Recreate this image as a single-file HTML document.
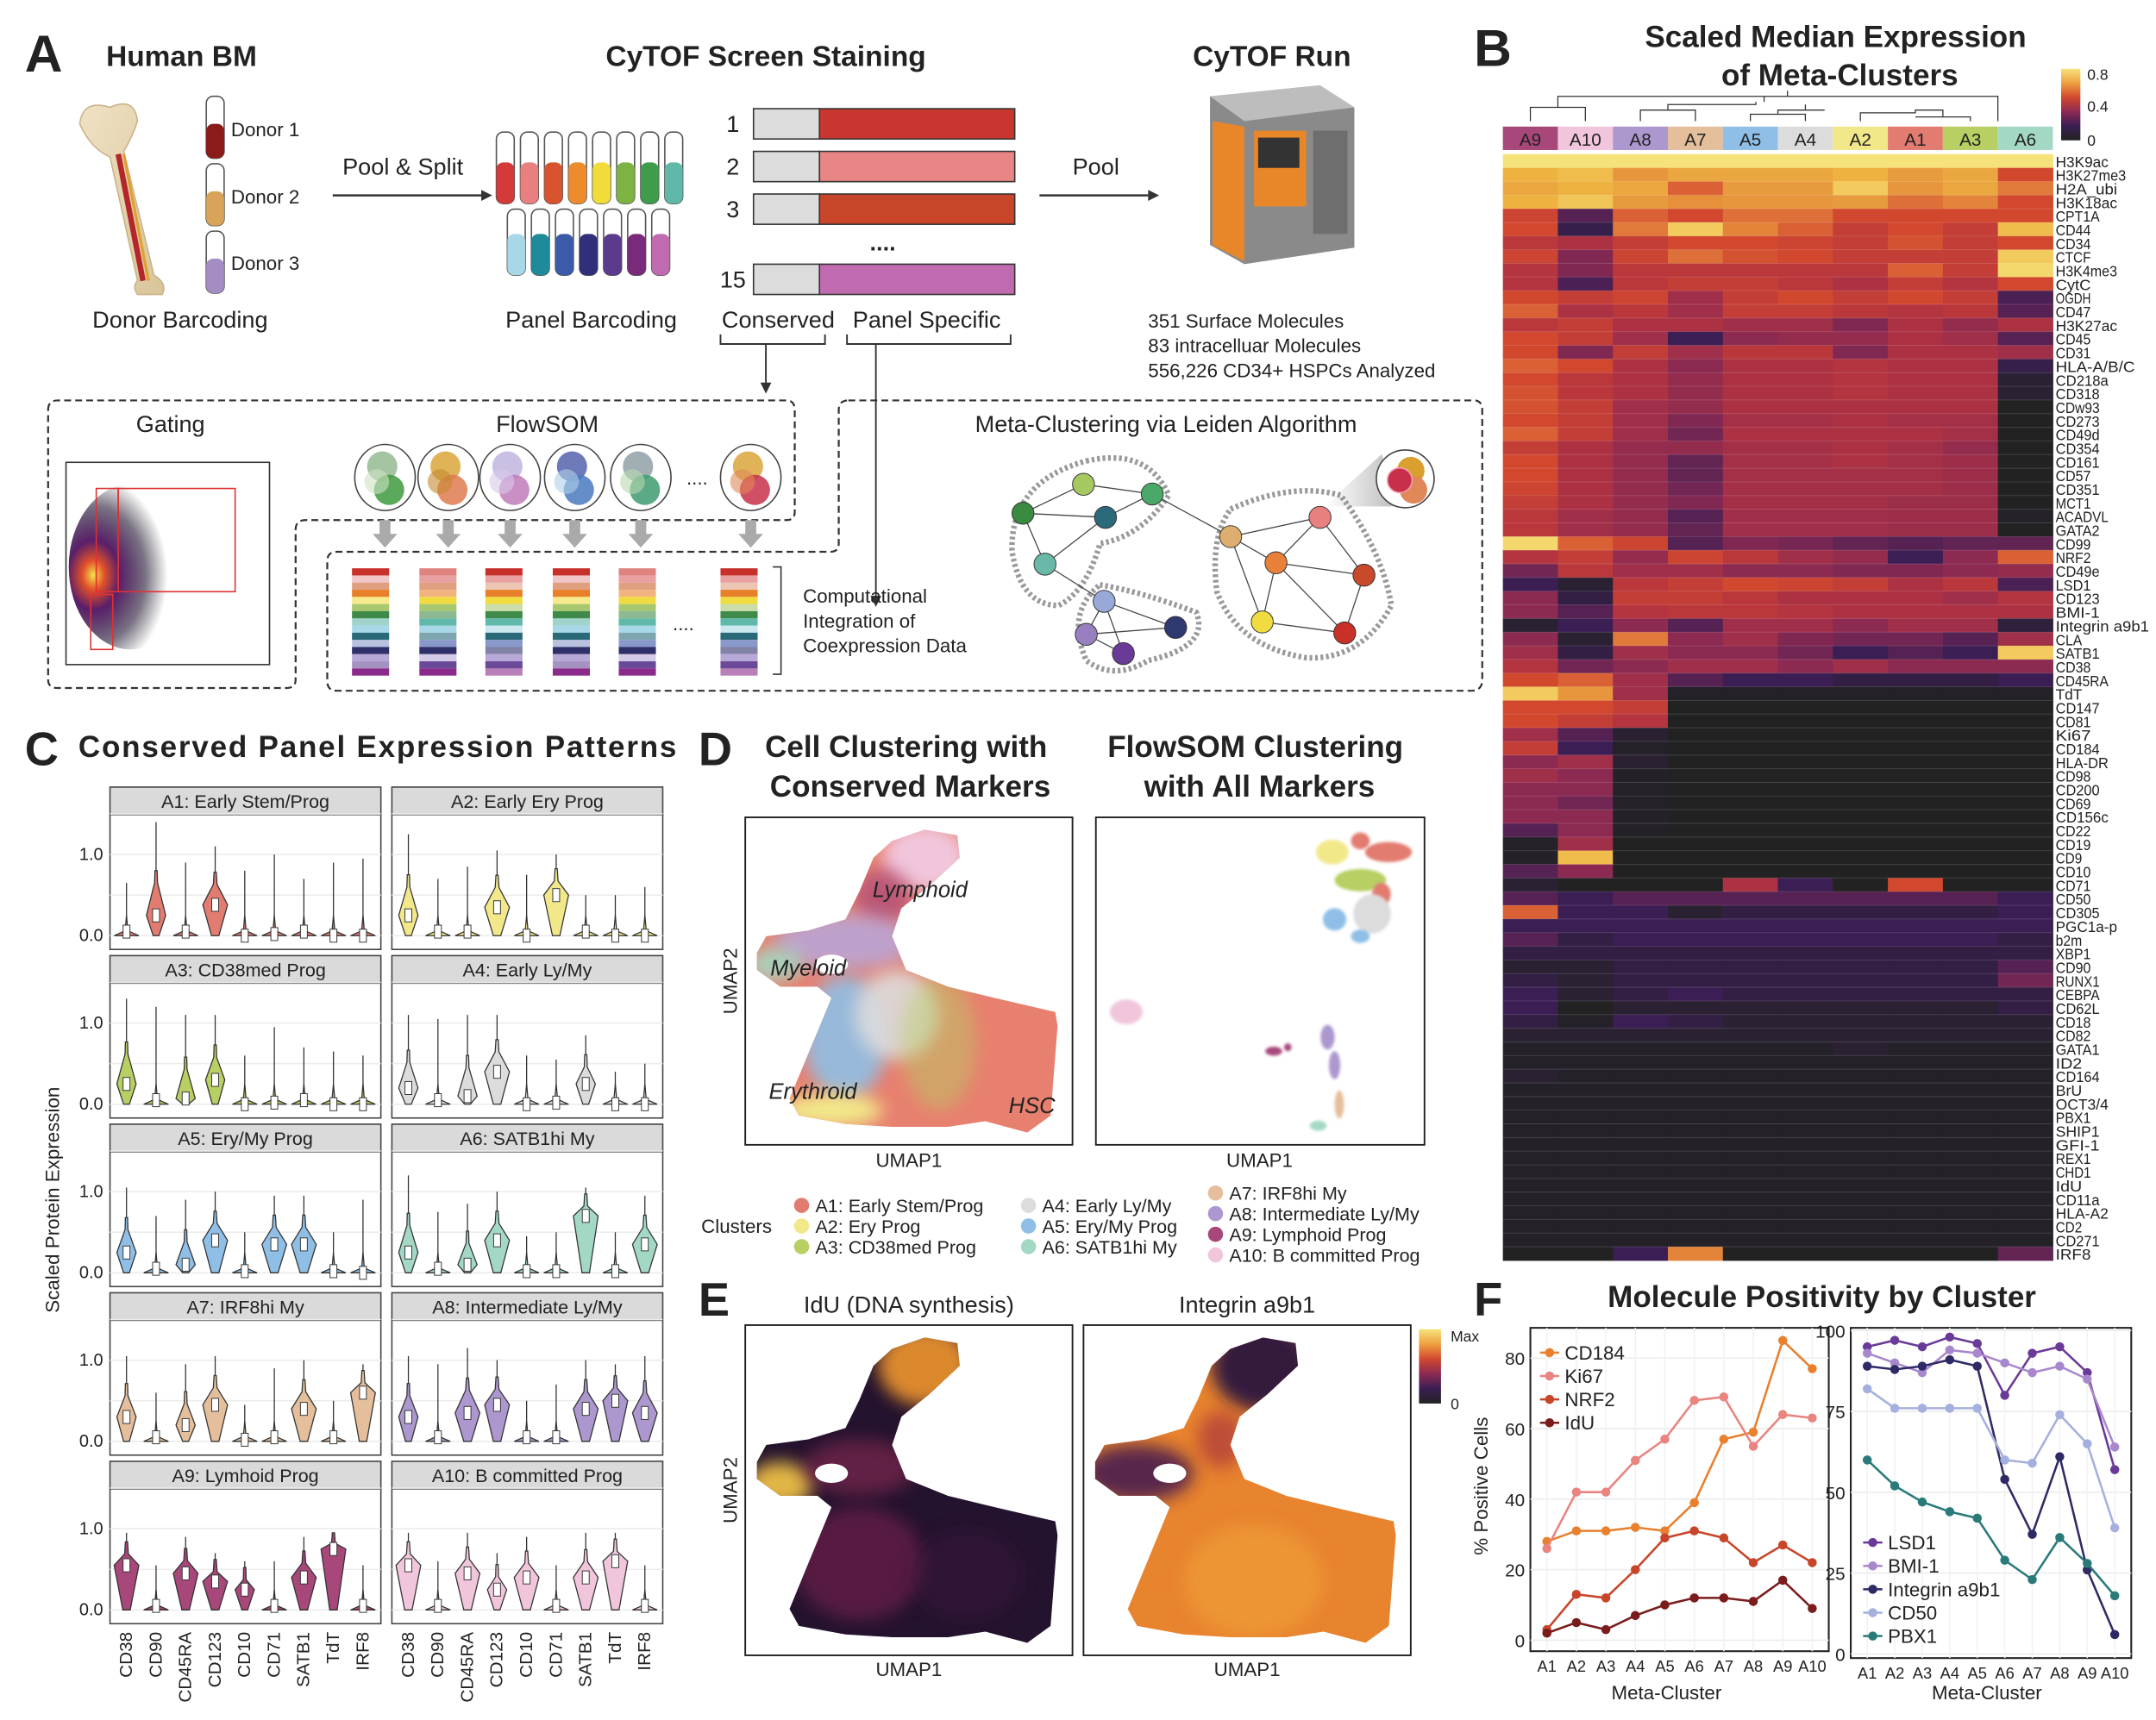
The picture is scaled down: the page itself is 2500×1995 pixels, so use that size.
<!DOCTYPE html>
<html><head><meta charset="utf-8"><title>CyTOF figure</title>
<style>
html,body{margin:0;padding:0;background:#fff;}
svg{display:block;}
text{font-family:"Liberation Sans",Arial,sans-serif;fill:#222;}
.b{font-weight:bold;}
</style></head>
<body>
<svg id="fig" width="2500" height="1995" viewBox="0 0 1568 1250" preserveAspectRatio="none" xmlns="http://www.w3.org/2000/svg">
<defs>
 <filter id="blur6" x="-50%" y="-50%" width="200%" height="200%"><feGaussianBlur stdDeviation="6"/></filter>
 <filter id="blur3" x="-50%" y="-50%" width="200%" height="200%"><feGaussianBlur stdDeviation="1"/></filter>
 <radialGradient id="gateG" cx="0.2" cy="0.55" r="0.6"><stop offset="0" stop-color="#f7e04a"/><stop offset="0.15" stop-color="#e0502a"/><stop offset="0.35" stop-color="#5a1e6a"/><stop offset="0.7" stop-color="#221533" stop-opacity="0.6"/><stop offset="1" stop-color="#222" stop-opacity="0"/></radialGradient>
 <linearGradient id="cbar" x1="0" y1="1" x2="0" y2="0"><stop offset="0" stop-color="#222"/><stop offset="0.2" stop-color="#3b1e54"/><stop offset="0.4" stop-color="#8c2a52"/><stop offset="0.6" stop-color="#d2482f"/><stop offset="0.8" stop-color="#eea040"/><stop offset="1" stop-color="#f6e27a"/></linearGradient>
 <linearGradient id="boneG" x1="0" y1="0" x2="1" y2="1"><stop offset="0" stop-color="#efe2c4"/><stop offset="1" stop-color="#d9c49a"/></linearGradient>
 <linearGradient id="magG" x1="0" y1="0" x2="1" y2="0"><stop offset="0" stop-color="#888" stop-opacity="0"/><stop offset="1" stop-color="#777"/></linearGradient>
</defs>

<g>
 <text x="18" y="52" font-size="38" class="b">A</text>
 <text x="132" y="48" font-size="21" class="b" text-anchor="middle">Human BM</text>
 <text x="557" y="48" font-size="21" class="b" text-anchor="middle">CyTOF Screen Staining</text>
 <text x="925" y="48" font-size="21" class="b" text-anchor="middle">CyTOF Run</text>
 <g>
  <path d="M58 90 Q60 72 80 78 Q98 70 100 88 Q96 100 90 110 L112 200 Q122 206 118 214 L100 214 Q96 208 100 204 L80 114 Q66 108 58 90Z" fill="url(#boneG)" stroke="#c9b38a"/>
  <path d="M86 112 L104 204" stroke="#b3262a" stroke-width="4"/>
  <path d="M90 112 L108 204" stroke="#e0a030" stroke-width="2"/>
 </g>
 <g>
  <rect x="150" y="70" width="13" height="45" rx="5" fill="#fff" stroke="#555"/><rect x="150" y="90" width="13" height="25" rx="5" fill="#8b1a1a"/>
  <rect x="150" y="119" width="13" height="45" rx="5" fill="#fff" stroke="#555"/><rect x="150" y="139" width="13" height="25" rx="5" fill="#d9a45a"/>
  <rect x="150" y="168" width="13" height="45" rx="5" fill="#fff" stroke="#555"/><rect x="150" y="188" width="13" height="25" rx="5" fill="#a58cc4"/>
  <text x="168" y="99" font-size="14">Donor 1</text><text x="168" y="148" font-size="14">Donor 2</text><text x="168" y="196" font-size="14">Donor 3</text>
 </g>
 <text x="131" y="238" font-size="17" text-anchor="middle">Donor Barcoding</text>
 <line x1="242" y1="142" x2="350" y2="142" stroke="#333" stroke-width="1.5"/><path d="M350 138 L358 142 L350 146Z" fill="#333"/>
 <text x="293" y="127" font-size="17" text-anchor="middle">Pool &amp; Split</text>
 <g id="barcodeTubes"></g>
 <text x="430" y="238" font-size="17" text-anchor="middle">Panel Barcoding</text>
 <g>
  <text x="533" y="96" font-size="17" text-anchor="middle">1</text><rect x="548" y="79" width="48" height="22" fill="#dcdcdc" stroke="#333"/><rect x="596" y="79" width="142" height="22" fill="#c8362f" stroke="#333"/>
  <text x="533" y="127" font-size="17" text-anchor="middle">2</text><rect x="548" y="110" width="48" height="22" fill="#dcdcdc" stroke="#333"/><rect x="596" y="110" width="142" height="22" fill="#e88585" stroke="#333"/>
  <text x="533" y="158" font-size="17" text-anchor="middle">3</text><rect x="548" y="141" width="48" height="22" fill="#dcdcdc" stroke="#333"/><rect x="596" y="141" width="142" height="22" fill="#c9452a" stroke="#333"/>
  <text x="642" y="182" font-size="17" class="b" text-anchor="middle">....</text>
  <text x="533" y="209" font-size="17" text-anchor="middle">15</text><rect x="548" y="192" width="48" height="22" fill="#dcdcdc" stroke="#333"/><rect x="596" y="192" width="142" height="22" fill="#c06ab0" stroke="#333"/>
 </g>
 <text x="566" y="238" font-size="17" text-anchor="middle">Conserved</text>
 <text x="674" y="238" font-size="17" text-anchor="middle">Panel Specific</text>
 <path d="M524 243 V250 H600 V243 M616 243 V250 H735 V243 M557 250 V280 M637 250 V435" stroke="#333" fill="none" stroke-width="1.2"/>
 <path d="M553 278 L557 286 L561 278Z M633 433 L637 441 L641 433Z" fill="#333"/>
 <line x1="756" y1="142" x2="835" y2="142" stroke="#333" stroke-width="1.5"/><path d="M835 138 L843 142 L835 146Z" fill="#333"/>
 <text x="797" y="127" font-size="17" text-anchor="middle">Pool</text>
 <g>
  <path d="M880 70 L960 62 L985 78 L985 180 L905 192 L880 178Z" fill="#8a8a8a"/>
  <path d="M880 70 L960 62 L985 78 L905 88Z" fill="#bdbdbd"/>
  <path d="M882 88 L905 92 L905 190 L882 178Z" fill="#e8872a"/>
  <rect x="912" y="95" width="38" height="55" fill="#e8872a"/>
  <rect x="955" y="95" width="25" height="75" fill="#6e6e6e"/>
  <rect x="915" y="100" width="30" height="22" fill="#333"/>
 </g>
 <text x="835" y="238" font-size="14">351 Surface Molecules</text>
 <text x="835" y="256" font-size="14">83 intracelluar Molecules</text>
 <text x="835" y="274" font-size="14">556,226 CD34+ HSPCs Analyzed</text>

 <path d="M35 298 Q35 291 42 291 H572 Q578 291 578 298 V372 Q578 378 572 378 H222 Q215 378 215 385 V494 Q215 500 208 500 H42 Q35 500 35 494Z" fill="none" stroke="#333" stroke-width="1.4" stroke-dasharray="5,3"/>
 <path d="M617 291 H1072 Q1078 291 1078 298 V494 Q1078 502 1070 502 H245 Q238 502 238 495 V408 Q238 401 245 401 H604 Q610 401 610 395 V298 Q610 291 617 291Z" fill="none" stroke="#333" stroke-width="1.4" stroke-dasharray="5,3"/>
 <text x="124" y="314" font-size="17" text-anchor="middle">Gating</text>
 <text x="398" y="314" font-size="17" text-anchor="middle">FlowSOM</text>
 <text x="848" y="314" font-size="17" text-anchor="middle">Meta-Clustering via Leiden Algorithm</text>
 <g>
  <rect x="48" y="336" width="148" height="147" fill="#fff" stroke="#333"/>
  <ellipse cx="95" cy="412" rx="45" ry="60" fill="url(#gateG)"/>
  <rect x="70" y="355" width="16" height="75" fill="none" stroke="#e03030"/>
  <rect x="86" y="355" width="85" height="75" fill="none" stroke="#e03030"/>
  <rect x="66" y="432" width="16" height="40" fill="none" stroke="#e03030"/>
 </g>
 <g id="flowsom"></g>
 <g id="stacks"></g>
 <path d="M562 412 H568 V490 H562" fill="none" stroke="#333"/>
 <text x="584" y="438" font-size="14">Computational</text>
 <text x="584" y="456" font-size="14">Integration of</text>
 <text x="584" y="474" font-size="14">Coexpression Data</text>
 <g id="network"></g>
</g>

<g>
 <text x="1072" y="48" font-size="38" class="b">B</text>
 <text x="1335" y="34" font-size="22" class="b" text-anchor="middle">Scaled Median Expression</text>
 <text x="1338" y="62" font-size="22" class="b" text-anchor="middle">of Meta-Clusters</text>
 <g id="heat"></g>
 <rect x="1499" y="50" width="14" height="52" fill="url(#cbar)"/>
 <text x="1518" y="58" font-size="11">0.8</text><text x="1518" y="81" font-size="11">0.4</text><text x="1518" y="106" font-size="11">0</text>
</g>

<g>
 <text x="18" y="556" font-size="34" class="b">C</text>
 <text x="57" y="550" font-size="22" class="b" textLength="435">Conserved Panel Expression Patterns</text>
 <text transform="translate(43,872) rotate(-90)" font-size="14" text-anchor="middle">Scaled Protein Expression</text>
 <g id="violins"></g>
</g>

<g>
 <text x="508" y="556" font-size="34" class="b">D</text>
 <text x="659" y="550" font-size="22" class="b" text-anchor="middle">Cell Clustering with</text>
 <text x="662" y="579" font-size="22" class="b" text-anchor="middle">Conserved Markers</text>
 <text x="913" y="550" font-size="22" class="b" text-anchor="middle">FlowSOM Clustering</text>
 <text x="916" y="579" font-size="22" class="b" text-anchor="middle">with All Markers</text>
 <g id="umapD"></g>
 <g id="fsD"></g>
 <text x="661" y="848" font-size="14" text-anchor="middle">UMAP1</text>
 <text x="916" y="848" font-size="14" text-anchor="middle">UMAP1</text>
 <text transform="translate(536,713) rotate(-90)" font-size="14" text-anchor="middle">UMAP2</text>
 <g id="legendD"></g>
 <text x="510" y="896" font-size="14">Clusters</text>
</g>

<g>
 <text x="508" y="956" font-size="34" class="b">E</text>
 <text x="661" y="954" font-size="17" text-anchor="middle">IdU (DNA synthesis)</text>
 <text x="907" y="954" font-size="17" text-anchor="middle">Integrin a9b1</text>
 <g id="umapE"></g>
 <text x="661" y="1218" font-size="14" text-anchor="middle">UMAP1</text>
 <text x="907" y="1218" font-size="14" text-anchor="middle">UMAP1</text>
 <text transform="translate(536,1083) rotate(-90)" font-size="14" text-anchor="middle">UMAP2</text>
 <rect x="1032" y="966" width="16" height="54" fill="url(#cbar)"/>
 <text x="1055" y="975" font-size="11">Max</text><text x="1055" y="1024" font-size="11">0</text>
</g>

<g>
 <text x="1072" y="956" font-size="34" class="b">F</text>
 <text x="1325" y="950" font-size="22" class="b" text-anchor="middle">Molecule Positivity by Cluster</text>
 <g id="lineF"></g>
 <text transform="translate(1082,1080) rotate(-90)" font-size="14" text-anchor="middle">% Positive Cells</text>
 <text x="1212" y="1235" font-size="14" text-anchor="middle">Meta-Cluster</text>
 <text x="1445" y="1235" font-size="14" text-anchor="middle">Meta-Cluster</text>
</g>
</svg>

<script>
var NS="http://www.w3.org/2000/svg";
function mk(parent,tag,attrs,txt){var e=document.createElementNS(NS,tag);for(var k in attrs)e.setAttribute(k,attrs[k]);if(txt!==undefined)e.textContent=txt;parent.appendChild(e);return e;}

var clusterIds=["A1","A2","A3","A4","A5","A6","A7","A8","A9","A10"];
var clusterColors=["#e27b70","#f2e88a","#b7cf63","#dcdcdc","#8fbfe6","#a3d9c4","#e5bf9c","#ac97cf","#a8477a","#f1c6dc"];
var clusterNames=["A1: Early Stem/Prog","A2: Ery Prog","A3: CD38med Prog","A4: Early Ly/My","A5: Ery/My Prog","A6: SATB1hi My","A7: IRF8hi My","A8: Intermediate Ly/My","A9: Lymphoid Prog","A10: B committed Prog"];

var tubesRow1=["#d43a3a","#e88080","#d9532e","#ec8c2c","#f2dc3a","#7cb342","#3f9c4a","#5fb8a8"];
var tubesRow2=["#a8d8e8","#1f8a9a","#3b5ba8","#2f2f7a","#5a3b8c","#7a2a7a","#c06ab0"];
(function(){var g=document.getElementById("barcodeTubes");
 tubesRow1.forEach(function(c,i){var x=361+i*17.5;mk(g,"rect",{x:x,y:96,width:13,height:52,rx:5,fill:"#fff",stroke:"#555"});var r=mk(g,"rect",{x:x,y:118,width:13,height:30,rx:5,fill:c});
 
 });
 tubesRow2.forEach(function(c,i){var x=369+i*17.5;mk(g,"rect",{x:x,y:152,width:13,height:48,rx:5,fill:"#fff",stroke:"#555"});var r=mk(g,"rect",{x:x,y:170,width:13,height:30,rx:5,fill:c});
 
 });
 var f=document.getElementById("flowsom");
 var fsCols=[["#8fb58a","#3e9a3e","#cfe2c5"],["#d9a030","#e07a50","#c58a30"],["#bcb0dc","#c07ab8","#d8c8ea"],["#4a58a8","#4a7ac0","#b0d0e8"],["#8a9aa0","#3f9a70","#b8d8b0"],["#d9a030","#c8304a","#e08858"]];
 var fsX=[280,326,371,418,466,546];
 fsX.forEach(function(x,i){var c=mk(f,"ellipse",{cx:x,cy:347,rx:22,ry:24,fill:"#fff",stroke:"#444"});
 
 
 mk(f,"circle",{cx:x-2,cy:339,r:11,fill:fsCols[i][0],opacity:0.8});mk(f,"circle",{cx:x+3,cy:356,r:11,fill:fsCols[i][1],opacity:0.85});mk(f,"circle",{cx:x-6,cy:350,r:9,fill:fsCols[i][2],opacity:0.6});
 mk(f,"path",{d:"M"+(x-4)+" 378 h8 v10 h5 l-9 10 l-9 -10 h5z",fill:"#aaa"});});
 mk(f,"text",{x:507,y:352,"font-size":14,"text-anchor":"middle"},"....");
 var s=document.getElementById("stacks");
 var stripe=["#c8302a","#e8a0a0","#e0a080","#e8802a","#f0dc40","#a8c870","#3f8a48","#60b8a8","#a8d8e8","#2a6a78","#8898c8","#2f2f6a","#b8a8d8","#6a4a98","#8a2a8a"];
 var sx=[256,305,353,402,450,524];
 sx.forEach(function(x,i){stripe.forEach(function(c,j){var r=mk(s,"rect",{x:x,y:413+j*5.2,width:27,height:5.2,fill:c,opacity:(i+j)%3==1?0.6:1});
 
 });});
 mk(s,"text",{x:497,y:458,"font-size":14,"text-anchor":"middle"},"....");
 var n=document.getElementById("network");
 mk(n,"path",{d:"M790 335 Q835 325 850 360 Q830 390 800 395 Q790 430 770 440 Q742 440 736 400 Q735 350 790 335Z",fill:"none",stroke:"#999","stroke-width":4,"stroke-dasharray":"2,2"});
 mk(n,"path",{d:"M800 425 Q830 430 870 445 Q880 470 835 480 Q810 495 790 480 Q775 445 800 425Z",fill:"none",stroke:"#999","stroke-width":4,"stroke-dasharray":"2,2"});
 mk(n,"path",{d:"M895 370 Q940 350 975 360 Q1005 400 1012 440 Q990 480 950 478 Q900 470 885 430 Q880 390 895 370Z",fill:"none",stroke:"#999","stroke-width":4,"stroke-dasharray":"2,2"});
 var nodes=[[788,352,"#a6c860"],[838,359,"#4aa868"],[744,373,"#3a8a40"],[804,376,"#2a6a7a"],[760,410,"#6ab8a8"],[803,437,"#98a8d8"],[855,456,"#303870"],[790,461,"#9880c0"],[817,475,"#6a3a98"],[895,390,"#deae70"],[960,376,"#e88080"],[928,409,"#e8803a"],[992,418,"#c84a2a"],[918,452,"#f0dc40"],[978,460,"#c83028"]];
 var edges=[[0,1],[0,2],[2,3],[1,3],[2,4],[3,4],[4,5],[5,6],[5,7],[5,8],[7,6],[7,8],[1,9],[9,10],[9,11],[10,11],[10,12],[11,12],[11,13],[12,14],[13,14],[9,13],[11,14]];
 edges.forEach(function(e){var l=mk(n,"line",{x1:nodes[e[0]][0],y1:nodes[e[0]][1],x2:nodes[e[1]][0],y2:nodes[e[1]][1],stroke:"#444","stroke-width":0.8});
 
 });
 mk(n,"path",{d:"M963 368 L1005 330 L1015 368Z",fill:"url(#magG)",opacity:0.5});
 nodes.forEach(function(p){var c=mk(n,"circle",{cx:p[0],cy:p[1],r:8,fill:p[2],stroke:"#333","stroke-width":0.6});
 
 });
 mk(n,"circle",{cx:1022,cy:348,r:21,fill:"#fff",stroke:"#444"});
 mk(n,"circle",{cx:1026,cy:342,r:10,fill:"#d9a030"});mk(n,"circle",{cx:1028,cy:356,r:10,fill:"#e08858"});mk(n,"circle",{cx:1018,cy:349,r:9,fill:"#c8304a",stroke:"#f0a0b0"});
})();

var heatCols=["A9","A10","A8","A7","A5","A4","A2","A1","A3","A6"];
var heatColColors=["#a8477a","#f1c6dc","#ac97cf","#e5bf9c","#8fbfe6","#dcdcdc","#f2e88a","#e27b70","#b7cf63","#a3d9c4"];
var heatRows=["H3K9ac","H3K27me3","H2A_ubi","H3K18ac","CPT1A","CD44","CD34","CTCF","H3K4me3","CytC","OGDH","CD47","H3K27ac","CD45","CD31","HLA-A/B/C","CD218a","CD318","CDw93","CD273","CD49d","CD354","CD161","CD57","CD351","MCT1","ACADVL","GATA2","CD99","NRF2","CD49e","LSD1","CD123","BMI-1","Integrin a9b1","CLA","SATB1","CD38","CD45RA","TdT","CD147","CD81","Ki67","CD184","HLA-DR","CD98","CD200","CD69","CD156c","CD22","CD19","CD9","CD10","CD71","CD50","CD305","PGC1a-p","b2m","XBP1","CD90","RUNX1","CEBPA","CD62L","CD18","CD82","GATA1","ID2","CD164","BrU","OCT3/4","PBX1","SHIP1","GFI-1","REX1","CHD1","IdU","CD11a","HLA-A2","CD2","CD271","IRF8"];
var heatVals=[
[.8,.8,.8,.8,.8,.8,.8,.8,.8,.8],
[.7,.72,.65,.68,.68,.68,.7,.66,.68,.5],
[.68,.7,.68,.55,.66,.66,.75,.65,.68,.6],
[.7,.74,.66,.64,.65,.65,.66,.58,.62,.5],
[.48,.2,.55,.5,.58,.58,.5,.5,.5,.5],
[.5,.12,.6,.75,.62,.55,.45,.5,.45,.72],
[.42,.38,.45,.5,.5,.48,.45,.52,.45,.5],
[.48,.28,.48,.58,.52,.5,.45,.45,.45,.75],
[.4,.28,.42,.42,.42,.42,.42,.55,.45,.78],
[.4,.18,.42,.45,.45,.42,.38,.45,.4,.5],
[.5,.45,.48,.35,.45,.5,.45,.5,.45,.18],
[.55,.38,.42,.35,.45,.45,.42,.4,.42,.2],
[.42,.45,.38,.38,.35,.35,.28,.38,.32,.38],
[.5,.45,.35,.15,.3,.32,.32,.38,.35,.2],
[.5,.28,.45,.35,.42,.42,.28,.38,.38,.35],
[.55,.5,.38,.3,.38,.38,.4,.38,.38,.12],
[.5,.42,.38,.32,.38,.38,.4,.38,.38,.05],
[.52,.42,.38,.32,.38,.38,.4,.38,.38,.05],
[.52,.45,.35,.32,.38,.38,.38,.38,.38,0],
[.5,.45,.35,.28,.36,.36,.38,.36,.36,0],
[.55,.45,.35,.25,.38,.38,.38,.38,.36,0],
[.45,.38,.32,.32,.36,.36,.38,.36,.32,0],
[.5,.38,.32,.22,.36,.36,.38,.36,.34,0],
[.5,.38,.32,.22,.36,.36,.36,.36,.34,0],
[.48,.38,.32,.25,.36,.36,.36,.36,.34,0],
[.45,.38,.32,.28,.36,.36,.36,.34,.34,0],
[.42,.35,.32,.2,.35,.35,.35,.34,.34,.02],
[.42,.35,.32,.22,.35,.35,.35,.34,.34,0],
[.78,.55,.48,.2,.28,.26,.22,.2,.22,.22],
[.4,.45,.32,.48,.42,.35,.32,.15,.3,.55],
[.25,.42,.35,.35,.3,.3,.28,.28,.3,.32],
[.15,.05,.42,.45,.5,.48,.45,.38,.42,.18],
[.3,.1,.45,.45,.42,.38,.38,.38,.35,.4],
[.3,.2,.4,.42,.42,.4,.38,.38,.38,.38],
[.05,.15,.3,.2,.35,.35,.3,.35,.35,.08],
[.3,.05,.6,.3,.35,.28,.25,.25,.2,.35],
[.35,.1,.35,.3,.3,.25,.15,.2,.15,.75],
[.4,.25,.3,.35,.35,.3,.35,.3,.3,.3],
[.5,.55,.35,.2,.15,.15,.1,.1,.1,.15],
[.75,.65,.35,.02,.02,.02,.02,.02,.02,.02],
[.5,.5,.45,0,0,0,0,0,0,0],
[.5,.45,.4,0,0,0,0,0,0,0],
[.35,.2,.05,0,0,0,0,0,0,0],
[.45,.15,.02,0,0,0,0,0,0,0],
[.3,.35,.05,0,0,0,0,0,0,0],
[.35,.3,.02,0,0,0,0,0,0,0],
[.3,.3,.02,0,0,0,0,0,0,0],
[.3,.25,.02,0,0,0,0,0,0,0],
[.3,.3,.02,0,0,0,0,0,0,0],
[.2,.3,.02,0,0,0,0,0,0,0],
[.02,.35,0,0,0,0,0,0,0,0],
[.02,.72,0,0,0,0,0,0,0,0],
[.2,.3,0,0,0,0,0,0,0,0],
[.05,0,0,0,.38,.15,0,.5,0,0],
[.2,.15,.2,.2,.2,.2,.2,.2,.2,.15],
[.55,.15,.15,.05,.1,.1,.1,.1,.1,.15],
[.15,.15,.15,.15,.15,.15,.15,.15,.15,.15],
[.2,.1,.15,.15,.15,.15,.15,.15,.15,.1],
[.1,.1,.1,.1,.1,.1,.1,.1,.1,.1],
[.05,.05,.1,.1,.1,.1,.1,.1,.1,.2],
[.1,.05,.1,.1,.1,.1,.1,.1,.1,.25],
[.15,.05,.1,.15,.1,.1,.1,.1,.1,.1],
[.15,0,.05,.05,.05,.05,.05,.05,.05,.1],
[.1,.02,.15,.1,.05,.05,.05,.05,.05,.05],
[.05,.05,.05,.05,.05,.05,.05,.05,.05,.05],
[.02,.02,.02,.02,.02,.02,.05,.02,.02,.02],
[.02,.02,.02,.02,.02,.02,.02,.02,.02,.02],
[.05,.02,.02,.02,.02,.02,.02,.02,.02,.02],
[.02,.02,.02,.02,.02,.02,.02,.02,.02,.02],
[.02,.02,.02,.02,.02,.02,.02,.02,.02,.02],
[.02,.02,.02,.02,.02,.02,.02,.02,.02,.02],
[.02,.02,.02,.02,.02,.02,.02,.02,.02,.02],
[.02,.02,.02,.02,.02,.02,.02,.02,.02,.02],
[.02,.02,.02,.02,.02,.02,.02,.02,.02,.02],
[.02,.02,.02,.02,.02,.02,.02,.02,.02,.02],
[.02,.02,.02,.02,.02,.02,.02,.02,.02,.02],
[.02,.02,.02,.02,.02,.02,.02,.02,.02,.02],
[.02,.02,.02,.02,.02,.02,.02,.02,.02,.02],
[.02,.02,.02,.02,.02,.02,.02,.02,.02,.02],
[.02,.02,.02,.02,.02,.02,.02,.02,.02,.02],
[0,0,.15,.62,0,0,0,0,0,.22]];
var heatStops=[[0,[34,34,34]],[0.15,[59,30,84]],[0.3,[140,42,82]],[0.4,[180,52,63]],[0.5,[210,72,47]],[0.6,[224,121,58]],[0.7,[238,178,64]],[0.8,[246,226,122]]];
function heatColor(v){v=Math.max(0,Math.min(0.8,v));for(var i=1;i<heatStops.length;i++){if(v<=heatStops[i][0]){var a=heatStops[i-1],b=heatStops[i],t=(v-a[0])/(b[0]-a[0]);return "rgb("+[0,1,2].map(function(k){return Math.round(a[1][k]+t*(b[1][k]-a[1][k]));}).join(",")+")";}}return "rgb(246,226,122)";}
(function(){var g=document.getElementById("heat");var x0=1093,cw=40,y0=112,rh=(916-112)/heatRows.length;
 heatCols.forEach(function(c,j){var r=mk(g,"rect",{x:x0+j*cw,y:92,width:cw,height:17,fill:heatColColors[j]});
 
 
 mk(g,"text",{x:x0+j*cw+cw/2,y:106,"font-size":13,"text-anchor":"middle"},c);});
 heatRows.forEach(function(name,i){heatVals[i].forEach(function(v,j){var r=mk(g,"rect",{x:x0+j*cw,y:y0+i*rh,width:cw+0.3,height:rh+0.3,fill:heatColor(v)});
 
 });
 var t=mk(g,"text",{x:1495,y:y0+i*rh+rh-0.5,"font-size":11,textLength:Math.min(name.length*6.4,68),lengthAdjust:"spacingAndGlyphs"},name);
 
 });
 for(var i=1;i<heatRows.length;i++)mk(g,"line",{x1:x0,x2:x0+400,y1:y0+i*rh,y2:y0+i*rh,stroke:"#fff","stroke-opacity":0.15,"stroke-width":0.6});
 var d="M1113 88 V78 H1153 V88 M1133 78 V70 H1300 V66 M1193 88 V80 H1233 V88 M1213 80 V76 H1277 V74 M1273 88 V83 H1313 V88 M1293 83 V80 H1327 M1353 88 V82 H1393 V80 H1413 V85 M1433 88 V85 H1393 M1313 80 V76 M1283 74 V70 H1453 V88";
 var p=mk(g,"path",{d:d,fill:"none",stroke:"#333","stroke-width":0.8});
 
 
})();

var violinMarkers=["CD38","CD90","CD45RA","CD123","CD10","CD71","SATB1","TdT","IRF8"];
var facetTitles=["A1: Early Stem/Prog","A2: Early Ery Prog","A3: CD38med Prog","A4: Early Ly/My","A5: Ery/My Prog","A6: SATB1hi My","A7: IRF8hi My","A8: Intermediate Ly/My","A9: Lymhoid Prog","A10: B committed Prog"];
var violinMedians=[
[.05,.25,.05,.38,.0,.02,.05,.0,.0],
[.25,.05,.05,.35,.0,.5,.05,.0,.0],
[.25,.05,.07,.3,.0,.02,.05,.0,.0],
[.2,.05,.1,.4,.0,.02,.25,.0,.0],
[.25,.05,.1,.4,.02,.35,.35,.02,.0],
[.25,.05,.1,.4,.02,.02,.7,.02,.35],
[.3,.05,.2,.45,.02,.05,.4,.05,.6],
[.3,.05,.35,.45,.05,.05,.4,.5,.35],
[.55,.05,.45,.35,.25,.05,.4,.75,.05],
[.55,.05,.45,.25,.4,.05,.4,.6,.05]];
var violinMax=[
[.65,1.4,.9,1.1,.8,1.0,.7,.9,.95],
[1.25,.7,.85,1.05,.75,1.0,.5,.5,.6],
[1.3,1.2,1.1,1.1,.6,.95,.7,.65,.6],
[1.1,1.05,1.1,1.1,.6,.55,.85,.4,.5],
[1.05,.7,.9,1.0,.5,.95,.95,.5,.9],
[1.2,.75,.85,1.0,.45,.5,1.05,.5,.95],
[1.05,.6,.95,1.05,.45,.9,1.0,.5,.95],
[1.05,.95,1.15,1.0,.5,.7,1.0,.95,1.05],
[.95,.55,.9,.7,.6,.6,.9,.95,.55],
[.95,.6,.95,.7,.9,.55,.95,.95,.55]];
var violinTicks=[0,1];
(function(){var g=document.getElementById("violins");
 for(var f=0;f<10;f++){(function(f){var col=f%2,row=Math.floor(f/2);var x0=80+col*205,top=572+row*122.5,w=197;
  var yv=function(v){return top+108-59*v;};
  var hdr=mk(g,"rect",{x:x0,y:top,width:w,height:20,fill:"#dadada",stroke:"#444"});
  
  
  mk(g,"text",{x:x0+w/2,y:top+15,"font-size":13.5,"text-anchor":"middle"},facetTitles[f]);
  mk(g,"rect",{x:x0,y:top+20,width:w,height:98,fill:"#fff",stroke:"#444"});
  [0,0.5,1,1.5].forEach(function(t){mk(g,"line",{x1:x0,x2:x0+w,y1:yv(t),y2:yv(t),stroke:"#ececec"});});
  if(col==0)violinTicks.forEach(function(t){mk(g,"text",{x:x0-5,y:yv(t)+4,"font-size":12.5,"text-anchor":"end"},t.toFixed(1));});
  violinMarkers.forEach(function(m,i){var cx=x0+12+i*21.5,med=violinMedians[f][i],mx=violinMax[f][i];
   mk(g,"line",{x1:cx,x2:cx,y1:yv(0),y2:yv(mx),stroke:"#333","stroke-width":0.8});
   var hw=med<0.06?9:(med>0.3?9:7);var up=med+(mx-med)*0.35;
   var pts=[[0,hw*0.3],[Math.max(med,0.01),hw],[up,hw*0.15],[Math.min(mx,up+0.15),0.8]];
   var d="M"+cx+" "+yv(0);pts.forEach(function(p){d+=" L"+(cx+p[1])+" "+yv(p[0]);});
   for(var k=pts.length-1;k>=0;k--)d+=" L"+(cx-pts[k][1])+" "+yv(pts[k][0]);d+="Z";
   if(med<0.06)d="M"+(cx-hw)+" "+yv(0)+" L"+(cx-1)+" "+yv(0.06)+" L"+cx+" "+yv(Math.min(mx,0.25))+" L"+(cx+1)+" "+yv(0.06)+" L"+(cx+hw)+" "+yv(0)+"Z";
   var v=mk(g,"path",{d:d,fill:clusterColors[f],stroke:"#333","stroke-width":0.8});
   
   
   mk(g,"rect",{x:cx-2.5,y:yv(med+0.08),width:5,height:Math.max(3,0.16*59),fill:"#fff",stroke:"#333","stroke-width":0.6});
   if(row==4){var t=mk(g,"text",{transform:"translate("+(cx+4)+","+(top+124)+") rotate(-90)","font-size":13,"text-anchor":"end"},m);
   
   }
  });
 })(f);}})();

var umapOutline=[[400,70],[470,50],[540,60],[545,100],[480,150],[420,190],[400,240],[430,300],[520,330],[620,350],[750,375],[755,400],[740,560],[690,590],[600,570],[520,580],[400,580],[300,575],[200,560],[180,530],[210,470],[270,350],[240,330],[160,330],[110,300],[110,270],[130,240],[220,230],[300,210],[330,160],[360,100]];
function boxMap(bx,by,bw,bh){return function(p){return [bx+(p[0]-85)/702*bw,by+(p[1]-28)/584*bh];};}
function drawUmap(g,id,bx,by,bw,bh,base,blobs){
 var map=boxMap(bx,by,bw,bh);var d="M"+umapOutline.map(function(p){return map(p).join(" ");}).join(" L")+"Z";
 var cp=mk(document.querySelector("defs"),"clipPath",{id:id});mk(cp,"path",{d:d});
 var fr=mk(g,"rect",{x:bx,y:by,width:bw,height:bh,fill:"#fff",stroke:"#222","stroke-width":1.2});
 
 
 var sh=mk(g,"path",{d:d,fill:base});
 
 
 var cg=mk(g,"g",{"clip-path":"url(#"+id+")"});
 blobs.forEach(function(b){var c=map([b[0],b[1]]);mk(cg,"ellipse",{cx:c[0],cy:c[1],rx:b[2]/702*bw,ry:b[3]/584*bh,fill:b[4],opacity:b[5],filter:"url(#blur6)"});});
 mk(cg,"ellipse",{cx:map([270,290])[0],cy:map([270,290])[1],rx:12,ry:7,fill:"#fff"});
 return map;}
(function(){var g=document.getElementById("umapD");
 var map=drawUmap(g,"cpD",542,594,238,238,"#e8806f",[[470,100,90,60,"#f1c6dc",1],[380,170,60,50,"#a8477a",0.7],[300,250,150,50,"#b9a5d6",0.9],[150,290,60,30,"#a3d9c4",0.9],[300,420,90,110,"#8fbfe6",0.9],[410,380,90,80,"#dcdcdc",0.9],[500,430,80,120,"#b7cf63",0.45],[270,550,110,30,"#f2e88a",1]]);
 [["Lymphoid",[460,170]],["Myeloid",[220,310]],["Erythroid",[230,530]],["HSC",[700,555]]].forEach(function(l){var p=map(l[1]);var t=mk(g,"text",{x:p[0],y:p[1],"font-size":16,"font-style":"italic","text-anchor":"middle"},l[0]);
 
 });
 var f=document.getElementById("fsD");var fr=mk(f,"rect",{x:797,y:594,width:239,height:238,fill:"#fff",stroke:"#222","stroke-width":1.2});
 
 
 var fsPts=[[0,[1460,90,50,18]],[0,[1400,70,20,15]],[1,[1340,90,35,22]],[2,[1400,140,55,20]],[0,[1445,165,20,20]],[3,[1425,200,40,35]],[4,[1345,210,25,20]],[4,[1400,240,20,12]],[9,[900,375,35,22]],[8,[1215,445,18,8]],[8,[1245,438,8,7]],[7,[1330,420,15,22]],[7,[1345,470,12,25]],[6,[1355,540,10,25]],[5,[1310,578,18,9]]];
 fsPts.forEach(function(q){var c=q[1];var x=797+(c[0]-835)/702*239,y=594+(c[1]-28)/584*238;var e=mk(f,"ellipse",{cx:x,cy:y,rx:c[2]/702*239,ry:c[3]/584*238,fill:clusterColors[q[0]],filter:"url(#blur3)"});
 
 });
 var lg=document.getElementById("legendD");
 var lgPos=[[583,880],[583,895],[583,910],[748,880],[748,895],[748,910],[884,871],[884,886],[884,901],[884,916]];
 clusterNames.forEach(function(nm,i){var p=lgPos[i];var c=mk(lg,"circle",{cx:p[0],cy:p[1]-4,r:5.5,fill:clusterColors[i]});
 
 
 mk(lg,"text",{x:p[0]+10,y:p[1]+1,"font-size":13.5},nm);});
 var e=document.getElementById("umapE");
 drawUmap(e,"cpE1",542,963,238,240,"#24132e",[[470,100,100,70,"#f0962e",0.9],[160,310,70,40,"#f7c84a",0.9],[330,280,120,50,"#8a2a55",0.6],[330,450,140,100,"#7a2250",0.6],[560,470,120,80,"#3a1840",0.5]]);
 drawUmap(e,"cpE2",788,963,238,240,"#e8832e",[[470,100,110,80,"#2a1540",0.95],[200,290,120,50,"#4a1d50",0.9],[380,230,50,50,"#b3403a",0.8],[450,480,150,100,"#f0a23a",0.6]]);
})();

var fClusters=["A1","A2","A3","A4","A5","A6","A7","A8","A9","A10"];
var fLeftNames=["CD184","Ki67","NRF2","IdU"];
var fLeftColors=["#e8802e","#e98480","#c8452a","#7a1c1c"];
var cd184=[28,31,31,32,31,39,57,59,85,77];
var ki67=[26,42,42,51,57,68,69,55,64,63];
var nrf2=[3,13,12,20,29,31,29,22,27,22];
var idu=[2,5,3,7,10,12,12,11,17,9];
var fLeftTicks=[0,20,40,60,80];
var fRightNames=["LSD1","BMI-1","Integrin a9b1","CD50","PBX1"];
var fRightColors=["#6a3a98","#a888cc","#2e2a66","#a6b0de","#2a7a7a"];
var lsd1=[95,97,95,98,96,80,93,95,87,57];
var bmi1=[93,90,87,94,93,90,87,89,85,64];
var itga9b1=[89,88,89,91,89,54,37,61,26,6];
var cd50=[82,76,76,76,76,60,59,74,65,39];
var pbx1=[60,52,47,44,42,29,23,36,28,18];
var fRightTicks=[0,25,50,75,100];
(function(){var g=document.getElementById("lineF");
 function chart(x0,x1,y0,y1,yZero,yTop,vmax,ticks,series,cols,names,legX,legY){
  var xs=function(i){return x0+12+i*(x1-x0-24)/9;};var ys=function(v){return yZero-v/vmax*(yZero-yTop);};
  var fr=mk(g,"rect",{x:x0,y:y0,width:x1-x0,height:y1-y0,fill:"#fff",stroke:"#222","stroke-width":1.3});
  
  
  ticks.forEach(function(t){mk(g,"line",{x1:x0,x2:x1,y1:ys(t),y2:ys(t),stroke:"#ececec"});var tl=mk(g,"text",{x:x0-4,y:ys(t)+5,"font-size":13,"text-anchor":"end"},t);
  
  });
  fClusters.forEach(function(c,i){mk(g,"line",{x1:xs(i),x2:xs(i),y1:y0,y2:y1,stroke:"#f2f2f2"});var tl=mk(g,"text",{x:xs(i),y:y1+15,"font-size":11.5,"text-anchor":"middle"},c);
  
  });
  series.forEach(function(s,k){var pl=mk(g,"polyline",{points:s.map(function(v,i){return xs(i)+","+ys(v);}).join(" "),fill:"none",stroke:cols[k],"stroke-width":1.6});
   
   
   s.forEach(function(v,i){var c=mk(g,"circle",{cx:xs(i),cy:ys(v),r:3.3,fill:cols[k]});
   
   });
   var ly=legY+k*17;mk(g,"line",{x1:legX,x2:legX+14,y1:ly,y2:ly,stroke:cols[k],"stroke-width":1.6});mk(g,"circle",{cx:legX+7,cy:ly,r:3.3,fill:cols[k]});
   var lt=mk(g,"text",{x:legX+18,y:ly+5,"font-size":14},names[k]);
   
   });}
 chart(1113,1330,965,1200,1192,987,80,fLeftTicks,[cd184,ki67,nrf2,idu],fLeftColors,fLeftNames,1120,983);
 chart(1346,1550,965,1205,1202,967,100,fRightTicks,[lsd1,bmi1,itga9b1,cd50,pbx1],fRightColors,fRightNames,1355,1121);
})();
</script>
</body></html>
